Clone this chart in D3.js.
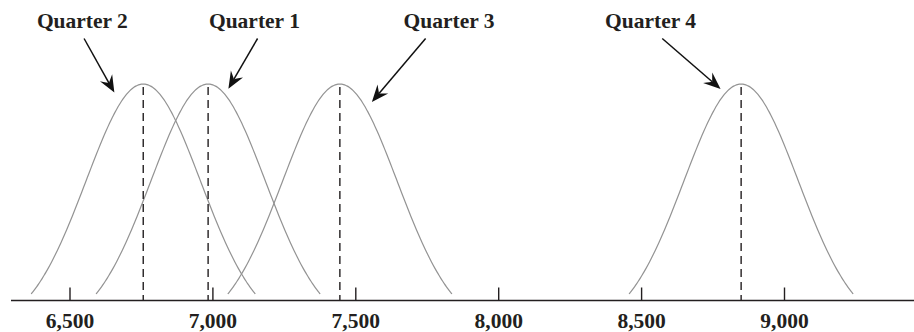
<!DOCTYPE html>
<html>
<head>
<meta charset="utf-8">
<script src="https://cdn.jsdelivr.net/npm/d3@7"></script>
<style>
  html, body { margin: 0; padding: 0; background: #fff; }
  svg { display: block; }
  text { font-family: "Liberation Serif", "Times New Roman", serif; font-weight: bold; fill: #231f20; }
</style>
</head>
<body>
<svg id="chart" width="914" height="332"></svg>
<script>
// ---- data ----
const quarters = ["Quarter 1", "Quarter 2", "Quarter 3", "Quarter 4"];
const means = [6985, 6758, 7446, 8850];
const stdDev = 200;
const cutoffZ = 1.96;
const tickValues = [6500, 7000, 7500, 8000, 8500, 9000];
// label anchor positions (data units); arrow tail/tip (data units), tip height (relative density)
const labelX = [7147, 6545, 7828, 8533];
const arrowTailX = [7158, 6551, 7746, 8574];
const arrowTipX = [7056, 6657, 7558, 8778];
const arrowTipH = [0.981, 0.965, 0.927, 0.980];

// ---- layout ----
const W = 914, H = 332;
const axisY = 300.5;
const x = d3.scaleLinear().domain([6500, 9000]).range([69.5, 784]);
const gEnd = Math.exp(-cutoffZ * cutoffZ / 2);
const y = d3.scaleLinear().domain([gEnd, 1]).range([294, 84]);

const svg = d3.select("#chart");

// curves
const line = d3.line().x(d => x(d[0])).y(d => y(d[1])).curve(d3.curveBasis);
means.forEach(m => {
  const pts = d3.range(-cutoffZ, cutoffZ + 1e-9, cutoffZ / 60).map(z => [m + z * stdDev, Math.exp(-z * z / 2)]);
  svg.append("path").attr("d", line(pts))
    .attr("fill", "none").attr("stroke", "#939393").attr("stroke-width", 1.2);
});

// dashed mean lines
svg.selectAll("line.mean").data(means).join("line")
  .attr("class", "mean")
  .attr("x1", d => x(d)).attr("x2", d => x(d))
  .attr("y1", y(1) + 3).attr("y2", axisY)
  .attr("stroke", "#231f20").attr("stroke-width", 1.4)
  .attr("stroke-dasharray", "8,5");

// axis baseline
svg.append("line").attr("x1", 11).attr("x2", W).attr("y1", axisY).attr("y2", axisY)
  .attr("stroke", "#231f20").attr("stroke-width", 1.6);

// axis ticks & labels
const axis = d3.axisBottom(x).tickValues(tickValues).tickFormat(d3.format(","))
  .tickSizeInner(-13).tickSizeOuter(0).tickPadding(12);
const gAxis = svg.append("g").attr("transform", `translate(0,${axisY})`).call(axis);
gAxis.select(".domain").remove();
gAxis.selectAll(".tick line").attr("stroke", "#231f20").attr("stroke-width", 1.4);
gAxis.selectAll(".tick text").attr("font-size", 21.5)
  .style("font-family", '"Liberation Serif", "Times New Roman", serif')
  .style("font-weight", "bold").attr("fill", "#231f20");

// labels
svg.selectAll("text.qlabel").data(quarters).join("text")
  .attr("class", "qlabel")
  .attr("x", (d, i) => x(labelX[i])).attr("y", 28)
  .attr("text-anchor", "middle").attr("font-size", 21.5)
  .text(d => d);

// arrows
function arrowHead(x1, y1, x2, y2) {
  const ang = Math.atan2(y2 - y1, x2 - x1);
  const L = 17, Wd = 7, back = 11;
  const ca = Math.cos(ang), sa = Math.sin(ang);
  const p = (a, b) => [x2 + a * ca - b * sa, y2 + a * sa + b * ca];
  const tip = p(0, 0), l = p(-L, -Wd), r = p(-L, Wd), n = p(-back, 0);
  return `M${tip}L${l}Q${p(-back - 1, -1)} ${n}Q${p(-back - 1, 1)} ${r}Z`;
}
quarters.forEach((q, i) => {
  const x1 = x(arrowTailX[i]), y1 = 38.5;
  const x2 = x(arrowTipX[i]), y2 = y(arrowTipH[i]);
  const ang = Math.atan2(y2 - y1, x2 - x1);
  svg.append("line")
    .attr("x1", x1).attr("y1", y1)
    .attr("x2", x2 - 11 * Math.cos(ang)).attr("y2", y2 - 11 * Math.sin(ang))
    .attr("stroke", "#111").attr("stroke-width", 1.5);
  svg.append("path").attr("d", arrowHead(x1, y1, x2, y2)).attr("fill", "#111");
});
</script>
</body>
</html>
